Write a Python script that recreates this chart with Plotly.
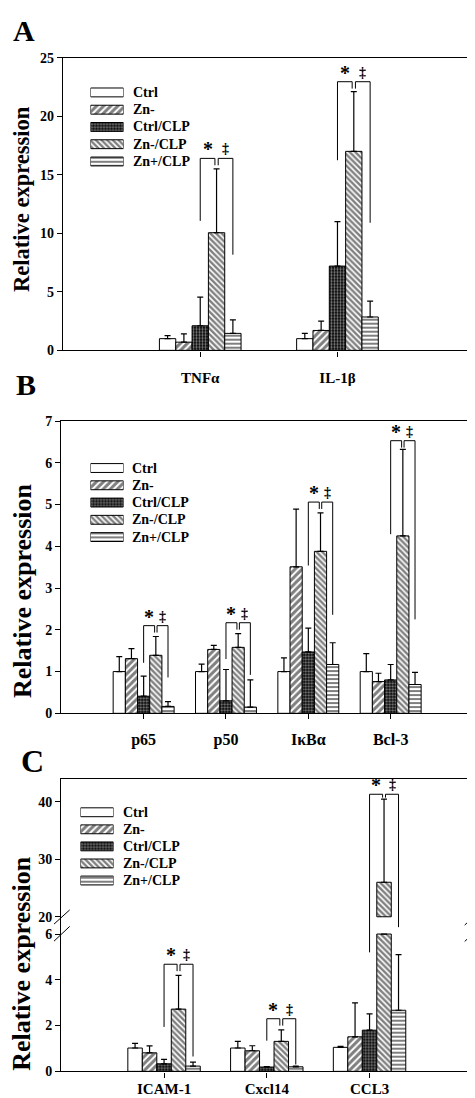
import plotly.graph_objects as go

W, H = 475, 1098
FONT = "Liberation Serif"
SERIES = ["Ctrl", "Zn-", "Ctrl/CLP", "Zn-/CLP", "Zn+/CLP"]

# ---------------- Panel A ----------------
A_GENES = ["TNFα", "IL-1β"]
A_CTRL = [1.0, 1.0]
A_ZNM = [0.7, 1.7]
A_CTRL_CLP = [2.1, 7.2]
A_ZNM_CLP = [10.05, 17.0]
A_ZNP_CLP = [1.45, 2.85]
A_CTRL_SE = [0.25, 0.45]
A_ZNM_SE = [0.7, 0.8]
A_CTRL_CLP_SE = [2.45, 3.8]
A_ZNM_CLP_SE = [5.45, 5.1]
A_ZNP_CLP_SE = [1.15, 1.35]
A_BR_TOP = [16.4, 22.95]
A_BR_STAR = [11.06, 16.24]
A_BR_DAG = [8.17, 10.9]
A_YTICKS = [0, 5, 10, 15, 20, 25]

# ---------------- Panel B ----------------
B_GENES = ["p65", "p50", "IκBα", "Bcl-3"]
B_CTRL = [1.0, 1.0, 1.0, 1.0]
B_ZNM = [1.31, 1.53, 3.51, 0.76]
B_CTRL_CLP = [0.41, 0.30, 1.47, 0.80]
B_ZNM_CLP = [1.39, 1.58, 3.88, 4.25]
B_ZNP_CLP = [0.165, 0.15, 1.17, 0.69]
B_CTRL_SE = [0.36, 0.18, 0.33, 0.43]
B_ZNM_SE = [0.24, 0.10, 1.38, 0.20]
B_CTRL_CLP_SE = [0.48, 0.75, 0.57, 0.37]
B_ZNM_CLP_SE = [0.45, 0.33, 0.92, 2.07]
B_ZNP_CLP_SE = [0.115, 0.65, 0.52, 0.29]
B_BR_TOP = [2.10, 2.17, 5.06, 6.53]
B_BR_STAR = [1.21, 1.30, 3.54, 4.29]
B_BR_DAG = [0.86, 0.92, 2.36, 2.25]
B_YTICKS = [0, 1, 2, 3, 4, 5, 6, 7]

# ---------------- Panel C ----------------
C_GENES = ["ICAM-1", "Cxcl14", "CCL3"]
C_CTRL = [1.02, 1.02, 1.05]
C_ZNM = [0.81, 0.90, 1.51]
C_CTRL_CLP = [0.33, 0.19, 1.80]
C_ZNM_CLP = [2.72, 1.31, 26.0]
C_ZNP_CLP = [0.23, 0.20, 2.67]
C_CTRL_SE = [0.20, 0.29, 0.04]
C_ZNM_SE = [0.30, 0.22, 1.48]
C_CTRL_CLP_SE = [0.19, 0.02, 0.71]
C_ZNM_CLP_SE = [1.47, 0.50, 14.46]
C_ZNP_CLP_SE = [0.17, 0.03, 2.43]
C_BR_TOP = [4.68, 2.30, 41.3]
C_BR_STAR = [1.94, 1.34, 5.2]
C_BR_DAG = [0.65, 0.30, 6.3]
C_YTICKS = [0, 2, 4, 6, 20, 30, 40]
C_BREAK_LOW = 6
C_BREAK_HIGH = 20
C_GAP = 0.754      # axis units of the blank band between 6 and 20
C_UPPER_K = 0.2513  # compression of the upper segment


def c_tf(v):
    return v if v < C_BREAK_HIGH else C_BREAK_LOW + C_GAP + (v - C_BREAK_HIGH) * C_UPPER_K


def ident(v):
    return v


PATTERNS = [
    None,
    dict(shape="/", size=5, solidity=0.6, fgcolor="black", bgcolor="white"),
    dict(shape=".", size=3, solidity=0.45, fgcolor="white", bgcolor="black"),
    dict(shape="\\", size=4, solidity=0.6, fgcolor="black", bgcolor="white"),
    dict(shape="-", size=4, solidity=0.5, fgcolor="black", bgcolor="white"),
]


def px_x(p):
    return p / W


def px_y(p):
    return 1 - p / H


def marker(i):
    m = dict(color="white", line=dict(color="black", width=1))
    if PATTERNS[i] is not None:
        m["pattern"] = PATTERNS[i]
    return m


panels = [
    dict(genes=A_GENES,
         means=[A_CTRL, A_ZNM, A_CTRL_CLP, A_ZNM_CLP, A_ZNP_CLP],
         ses=[A_CTRL_SE, A_ZNM_SE, A_CTRL_CLP_SE, A_ZNM_CLP_SE, A_ZNP_CLP_SE],
         top=A_BR_TOP, star=A_BR_STAR, dag=A_BR_DAG,
         bw=0.119, xr=[0, 3], yr=[0, 25], yticks=A_YTICKS, tf=ident,
         dom=(55, 466.7, 43.3, 340), letter=("A", 16, 15.5, 30),
         ytitle=(14, 186.5, 22.5), legend=(83, 115, 78.5, 17.5, 123),
         xfont=15, standoff=8),
    dict(genes=B_GENES,
         means=[B_CTRL, B_ZNM, B_CTRL_CLP, B_ZNM_CLP, B_ZNP_CLP],
         ses=[B_CTRL_SE, B_ZNM_SE, B_CTRL_CLP_SE, B_ZNM_CLP_SE, B_ZNP_CLP_SE],
         top=B_BR_TOP, star=B_BR_STAR, dag=B_BR_DAG,
         bw=0.148, xr=[0, 5], yr=[0, 7], yticks=B_YTICKS, tf=ident,
         dom=(53.3, 465, 411.7, 708), letter=("B", 17.5, 375, 30),
         ytitle=(14, 584, 26), legend=(83, 115, 459.3, 17.5, 122),
         xfont=16, standoff=6),
    dict(genes=C_GENES,
         means=[C_CTRL, C_ZNM, C_CTRL_CLP, C_ZNM_CLP, C_ZNP_CLP],
         ses=[C_CTRL_SE, C_ZNM_SE, C_CTRL_CLP_SE, C_ZNM_CLP_SE, C_ZNP_CLP_SE],
         top=C_BR_TOP, star=C_BR_STAR, dag=C_BR_DAG,
         bw=0.141, xr=[0, 4], yr=[0, c_tf(44.0)], yticks=C_YTICKS, tf=c_tf,
         dom=(53.3, 464.3, 774.3, 1071), letter=("C", 24, 756, 32),
         ytitle=(14, 962, 26), legend=(73, 105, 808.3, 17.3, 113),
         xfont=15, standoff=-2),
]

fig = go.Figure()
annotations = []
shapes = []
layout = {}

for k, p in enumerate(panels, start=1):
    sx = "" if k == 1 else str(k)
    xa, ya = "x" + sx, "y" + sx
    tf = p["tf"]
    bw = p["bw"]
    ng = len(p["genes"])
    centers = [g + 1 for g in range(ng)]
    x0, x1, y0, y1 = p["dom"]
    yscale = (y1 - y0) / (p["yr"][1] - p["yr"][0])  # px per axis unit

    for i, name in enumerate(SERIES):
        xs = [c + (i - 2) * bw for c in centers]
        lo_y, lo_e = [], []
        up_x, up_b, up_y, up_e = [], [], [], []
        for j in range(ng):
            v = p["means"][i][j]
            e = p["ses"][i][j]
            if v >= 20 and tf is c_tf:
                lo_y.append(C_BREAK_LOW)
                lo_e.append(0)
                up_x.append(xs[j])
                up_b.append(tf(C_BREAK_HIGH))
                up_y.append(tf(v) - tf(C_BREAK_HIGH))
                up_e.append(tf(v + e) - tf(v))
            else:
                lo_y.append(v)
                lo_e.append(tf(v + e) - v)
        fig.add_trace(go.Bar(
            x=xs, y=lo_y, width=bw, base=0, name=name, showlegend=False,
            marker=marker(i), xaxis=xa, yaxis=ya,
            error_y=dict(type="data", symmetric=False, array=lo_e,
                         arrayminus=[0] * ng, color="black", thickness=1.2, width=3),
        ))
        if up_x:
            fig.add_trace(go.Bar(
                x=up_x, y=up_y, width=bw, base=up_b, name=name, showlegend=False,
                marker=marker(i), xaxis=xa, yaxis=ya,
                error_y=dict(type="data", symmetric=False, array=up_e,
                             arrayminus=[0] * len(up_x), color="black",
                             thickness=1.2, width=3),
            ))

    # significance brackets
    bx, by = [], []
    for j, c in enumerate(centers):
        top = tf(p["top"][j])
        xc = c + bw
        xp = c + 2 * bw
        cap = tf(p["means"][3][j] + p["ses"][3][j])
        leg = min(7.0, (top - cap) * yscale - 1.5) / yscale
        sb = top - leg
        bx += [c, c, xc - 0.1 * bw, xc - 0.1 * bw, None]
        by += [p["star"][j], top, top, sb, None]
        bx += [xc + 0.1 * bw, xc + 0.1 * bw, xp, xp, None]
        by += [sb, top, top, p["dag"][j], None]
        annotations.append(dict(x=(c + xc - 0.1 * bw) / 2, y=top, xref=xa, yref=ya,
                                text="*", showarrow=False, yanchor="bottom", yshift=-4,
                                font=dict(family=FONT, size=20, color="black", weight="bold")))
        annotations.append(dict(x=(xc + xp) / 2 + 0.05 * bw, y=top, xref=xa, yref=ya,
                                text="‡", showarrow=False, yanchor="bottom", yshift=0,
                                font=dict(family=FONT, size=14, color="black", weight="bold")))
    fig.add_trace(go.Scatter(x=bx, y=by, mode="lines", line=dict(color="black", width=1),
                             showlegend=False, hoverinfo="skip", xaxis=xa, yaxis=ya))

    tickvals = [tf(v) for v in p["yticks"]]
    layout["xaxis" + sx] = dict(
        domain=[px_x(x0), px_x(x1)], range=p["xr"], anchor=ya,
        tickvals=centers, ticktext=p["genes"], ticks="outside", ticklen=5,
        tickwidth=1.2, tickcolor="black", showline=True, linecolor="black",
        linewidth=1.3, mirror=True, showgrid=False, zeroline=False,
        ticklabelstandoff=p["standoff"],
        tickfont=dict(family=FONT, size=p["xfont"], color="black", weight="bold"),
    )
    layout["yaxis" + sx] = dict(
        domain=[px_y(y1), px_y(y0)], range=p["yr"], anchor=xa,
        tickvals=tickvals, ticktext=[str(v) for v in p["yticks"]], ticks="outside",
        ticklen=5, tickwidth=1.2, tickcolor="black", showline=True, linecolor="black",
        linewidth=1.3, mirror=True, showgrid=False, zeroline=False,
        tickfont=dict(family=FONT, size=14, color="black", weight="bold"),
    )

    # panel letter and y-title
    lt, lx, ly, ls = p["letter"]
    annotations.append(dict(x=px_x(lx), y=px_y(ly), xref="paper", yref="paper", text=lt,
                            showarrow=False, xanchor="center", yanchor="middle",
                            font=dict(family=FONT, size=ls, color="black", weight="bold")))
    tx, ty, ts = p["ytitle"]
    annotations.append(dict(x=px_x(tx), y=px_y(ty), xref="paper", yref="paper",
                            text="Relative expression", textangle=-90, showarrow=False,
                            xanchor="center", yanchor="middle",
                            font=dict(family=FONT, size=ts, color="black", weight="bold")))

    # custom legend (swatches drawn as bars on a hidden axis pair)
    lk = str(k + 3)
    lx0, lx1, ly0, lsp, ltx = p["legend"]
    layout["xaxis" + lk] = dict(domain=[px_x(lx0 - 0.5), px_x(lx1 + 0.5)], range=[0, 1],
                                visible=False, anchor="y" + lk, fixedrange=True)
    layout["yaxis" + lk] = dict(domain=[px_y(ly0 + 4.5 * lsp), px_y(ly0 - 0.5 * lsp)],
                                range=[4.5, -0.5], visible=False, anchor="x" + lk,
                                fixedrange=True)
    for i, name in enumerate(SERIES):
        fig.add_trace(go.Bar(x=[1], y=[i], base=0, orientation="h", width=9 / lsp,
                             marker=marker(i), showlegend=False, hoverinfo="skip",
                             xaxis="x" + lk, yaxis="y" + lk))
        annotations.append(dict(x=px_x(ltx), y=px_y(ly0 + i * lsp), xref="paper",
                                yref="paper", text=name, showarrow=False,
                                xanchor="left", yanchor="middle",
                                font=dict(family=FONT, size=14, color="black",
                                          weight="bold")))

# axis break marks on panel C
for (ax0, ay0, ax1, ay1) in [(46, 921.7, 61.7, 907.3), (46, 939, 61.7, 924),
                             (456.7, 922.7, 473.3, 906.7), (456.7, 939.3, 473.3, 923.3)]:
    shapes.append(dict(type="line", xref="paper", yref="paper",
                       x0=px_x(ax0), y0=px_y(ay0), x1=px_x(ax1), y1=px_y(ay1),
                       line=dict(color="black", width=1)))

fig.update_layout(
    width=W, height=H, margin=dict(l=0, r=0, t=0, b=0),
    paper_bgcolor="white", plot_bgcolor="white", barmode="overlay",
    annotations=annotations, shapes=shapes, showlegend=False,
    **layout,
)

fig.write_html("out.html")
